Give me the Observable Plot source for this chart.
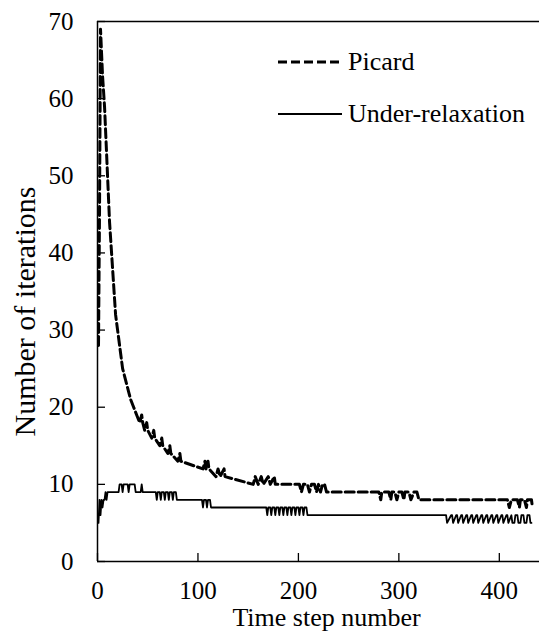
<!DOCTYPE html>
<html>
<head>
<meta charset="utf-8">
<script src="https://cdn.jsdelivr.net/npm/d3@7"></script>
<script src="https://cdn.jsdelivr.net/npm/@observablehq/plot@0.6"></script>
<style>
  html, body { margin: 0; padding: 0; background: #fff; }
  #wrap { position: relative; width: 539px; height: 642px; font-family: 'Liberation Serif', 'DejaVu Serif', serif; }
  #wrap svg text { font-family: 'Liberation Serif', 'DejaVu Serif', serif !important; }
  #legend { position: absolute; left: 0; top: 0; }
</style>
</head>
<body>
<div id="wrap"></div>
<script>
// ---- data ----
const xTicks = [0, 100, 200, 300, 400];
const yTicks = [0, 10, 20, 30, 40, 50, 60, 70];
const seriesNames = ["Picard", "Under-relaxation"];

// Picard: time step / number of iterations (change points)
const picardStep = [1,2,3,4,5,6,7,8,9,10,11,12,13,14,15,16,17,18,19,20,21,22,23,24,25,27,29,31,33,36,39,42,44,45,47,49,50,54,56,57,62,64,65,70,72,73,80,82,83,105,107,108,110,111,118,120,122,126,127,155,157,160,163,165,170,172,176,177,201,203,205,209,211,213,216,218,220,222,224,226,228,280,282,283,290,292,293,296,298,300,303,305,306,310,312,315,318,320,408,410,412,418,420,421,425,427,428,432,433];
const picardIter = [28,45,69,66,63,61,59,56,53,50,47,44,42,40,38,36,34,32,31,30,29,28,27,26,25,24,23,22,21,20,19,18,19,18,17,18,17,16,17,16,15,16,15,14,15,14,13,14,13,12,13,12,13,12,11,12,11,12,11,10,11,10,11,10,11,10,11,10,10,9,10,10,9,10,10,9,10,9,10,10,9,9,8,9,9,8,9,9,8,9,9,8,9,9,8,9,9,8,8,7,8,8,7,8,8,7,8,8,7];

// Under-relaxation: time step / number of iterations (change points)
const urStep = [1,2,3,4,5,6,7,8,9,10,21,22,24,25,26,30,31,32,37,38,43,44,45,58,59,60,62,63,64,66,67,68,70,71,72,74,75,76,78,79,80,104,105,106,108,109,110,112,113,117,168,169,170,172,173,174,176,177,178,180,181,182,184,185,186,188,189,190,192,193,194,196,197,198,200,201,202,204,205,206,208,209,346,347,348,352,353,354,357,358,359,362,363,364,367,368,369,372,373,374,377,378,379,382,383,384,387,388,389,392,393,394,397,398,399,402,403,404,407,408,409,412,413,415,416,418,419,421,422,424,425,427,428,430,431,432];
const urIter = [5,8,6,8,7,8,8,9,8,9,9,10,10,9,10,10,9,10,10,9,9,10,9,9,8,9,9,8,9,9,8,9,9,8,9,9,8,9,9,8,8,8,7,8,8,7,8,8,7,7,7,6,7,7,6,7,7,6,7,7,6,7,7,6,7,7,6,7,7,6,7,7,6,7,7,6,7,7,6,7,7,6,6,6,5,6,6,5,6,6,5,6,6,5,6,6,5,6,6,5,6,6,5,6,6,5,6,6,5,6,6,5,6,6,5,6,6,5,6,6,5,6,5,5,6,6,5,5,6,6,5,5,6,6,5,5,6];

const picard = picardStep.map((t, i) => ({t, n: picardIter[i]}));
const under = urStep.map((t, i) => ({t, n: urIter[i]}));

const font = "'Liberation Serif', 'DejaVu Serif', serif";

const chart = Plot.plot({
  width: 539,
  height: 642,
  marginLeft: 97,
  marginRight: 0,
  marginTop: 21,
  marginBottom: 81,
  style: {fontFamily: font, fontSize: "25px", color: "#000", background: "#fff", overflow: "visible"},
  x: {domain: [0, 440], ticks: xTicks},
  y: {domain: [0, 70], ticks: yTicks},
  marks: [
    Plot.axisX({ticks: xTicks, tickSize: -8, tickPadding: 28, label: null, tickFormat: d => String(d), strokeWidth: 1.3, fontFamily: font, fontSize: 25}),
    Plot.axisY({ticks: yTicks, tickSize: -8, tickPadding: 32, label: null, tickFormat: d => String(d), strokeWidth: 1.3, fontFamily: font, fontSize: 25}),
    Plot.ruleY([0, 70], {stroke: "#000", strokeWidth: 1.5}),
    Plot.ruleX([0], {stroke: "#000", strokeWidth: 1.5}),
    Plot.line(picard, {x: "t", y: "n", stroke: "#000", strokeWidth: 3, strokeDasharray: "9,4"}),
    Plot.line(under, {x: "t", y: "n", stroke: "#000", strokeWidth: 1.8}),
    Plot.text(["Time step number"], {frameAnchor: "bottom", lineAnchor: "middle", textAnchor: "middle", dy: 56, dx: 8, fontSize: 26, fontFamily: font, fill: "#000"}),
    Plot.text(["Number of iterations"], {frameAnchor: "left", lineAnchor: "middle", textAnchor: "middle", rotate: -90, dx: -72, dy: 20, fontSize: 30, fontFamily: font, fill: "#000"})
  ]
});

const wrap = document.getElementById("wrap");
wrap.appendChild(chart);

// legend overlay
const ns = "http://www.w3.org/2000/svg";
const leg = document.createElementNS(ns, "svg");
leg.setAttribute("id", "legend");
leg.setAttribute("width", 539);
leg.setAttribute("height", 642);
const rows = [
  {name: seriesNames[0], y: 62, dash: "9,4", w: 3},
  {name: seriesNames[1], y: 114, dash: null, w: 1.8}
];
rows.forEach(r => {
  const l = document.createElementNS(ns, "line");
  l.setAttribute("x1", 278); l.setAttribute("x2", 342);
  l.setAttribute("y1", r.y); l.setAttribute("y2", r.y);
  l.setAttribute("stroke", "#000"); l.setAttribute("stroke-width", r.w);
  if (r.dash) l.setAttribute("stroke-dasharray", r.dash);
  leg.appendChild(l);
  const t = document.createElementNS(ns, "text");
  t.setAttribute("x", 348); t.setAttribute("y", r.y + 8);
  t.setAttribute("font-size", 26);
  t.setAttribute("fill", "#000");
  t.style.fontFamily = font;
  t.textContent = r.name;
  leg.appendChild(t);
});
wrap.appendChild(leg);
</script>
</body>
</html>
